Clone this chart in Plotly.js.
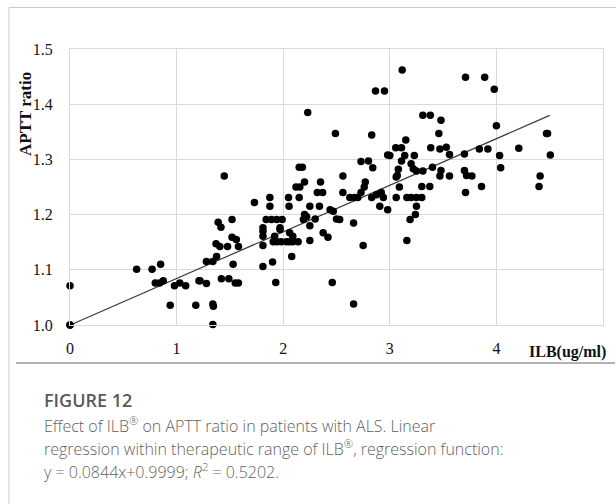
<!DOCTYPE html>
<html>
<head>
<meta charset="utf-8">
<script src="https://cdn.plot.ly/plotly-3.0.1.min.js"></script>
<style>html,body{margin:0;padding:0;background:#fff;}#chart{width:616px;height:504px;}</style>
</head>
<body>
<div id="chart"></div>
<script>
var ilbValues = [
  0, 0, 0,
  0.625, 0.77, 0.85, 0.80, 0.84, 0.875, 0.94, 0.98, 1.03, 1.085, 1.18, 1.21,
  1.447, 1.39, 1.416, 1.52, 1.37, 1.406, 1.478, 1.52, 1.56, 1.58, 1.375, 1.28, 1.34, 1.53, 1.22, 1.28, 1.42, 1.49, 1.55, 1.58, 1.34, 1.345, 1.34,
  1.73, 1.875, 1.875, 2.05, 2.055, 2.25, 2.34, 2.44, 2.47,
  1.84, 1.89, 1.94, 1.99, 2.20, 2.22, 2.19, 2.30, 2.50, 2.53, 2.66, 1.81, 1.97, 2.25,
  1.81, 1.81, 1.97, 1.906, 1.94, 1.98, 2.03, 2.06, 2.09, 2.14, 1.92, 2.06, 2.09, 2.25, 2.375, 2.42, 1.81, 2.08, 1.81, 1.90, 2.75, 1.93, 2.46, 2.66,
  2.866, 2.95, 2.23, 2.49, 2.83, 2.98, 2.73, 2.80, 2.84, 2.15, 2.18, 2.56, 2.20, 2.156, 2.12, 2.35, 2.32, 2.37, 2.15, 2.56, 2.77, 2.76, 2.73, 2.625, 2.67, 2.70, 2.83, 2.875, 2.92, 2.94, 2.906, 2.98,
  3.116, 3.71, 3.89, 3.98, 3.31, 3.38, 3.48, 3.46, 4.0, 3.15, 3.056, 3.11, 3.384, 3.47, 3.53, 3.84, 3.92, 3.0, 3.14, 3.23, 3.11, 3.56, 3.70, 4.03, 4.04,
  3.20, 3.22, 3.25, 3.31, 3.08, 3.07, 3.06, 3.40, 3.48, 3.47, 3.56, 3.70, 3.72, 3.77, 3.09, 3.30, 3.375, 3.86, 3.71,
  3.06, 3.16, 3.20, 3.25, 3.30, 3.25, 3.24, 3.19, 3.16,
  4.21, 4.47, 4.48, 4.506, 4.41, 4.40
];
var apttRatio = [
  1.0, 1.0, 1.071,
  1.101, 1.101, 1.11, 1.076, 1.076, 1.08, 1.036, 1.071, 1.076, 1.071, 1.036, 1.08,
  1.27, 1.186, 1.177, 1.191, 1.147, 1.142, 1.142, 1.159, 1.155, 1.142, 1.124, 1.115, 1.115, 1.11, 1.08, 1.075, 1.084, 1.084, 1.076, 1.076, 1.038, 1.034, 1.001,
  1.222, 1.231, 1.215, 1.231, 1.215, 1.215, 1.215, 1.209, 1.206,
  1.191, 1.191, 1.191, 1.191, 1.2, 1.196, 1.191, 1.192, 1.192, 1.191, 1.185, 1.176, 1.176, 1.18,
  1.17, 1.161, 1.173, 1.151, 1.151, 1.151, 1.151, 1.151, 1.151, 1.151, 1.161, 1.167, 1.161, 1.153, 1.167, 1.159, 1.144, 1.124, 1.106, 1.114, 1.144, 1.077, 1.077, 1.038,
  1.424, 1.424, 1.385, 1.347, 1.344, 1.308, 1.296, 1.297, 1.285, 1.286, 1.286, 1.27, 1.259, 1.25, 1.25, 1.259, 1.24, 1.24, 1.231, 1.24, 1.259, 1.25, 1.24, 1.231, 1.231, 1.231, 1.231, 1.236, 1.24, 1.231, 1.215, 1.209,
  1.462, 1.449, 1.449, 1.427, 1.38, 1.38, 1.371, 1.347, 1.361, 1.335, 1.321, 1.321, 1.321, 1.319, 1.322, 1.319, 1.319, 1.307, 1.307, 1.307, 1.297, 1.309, 1.31, 1.307, 1.285,
  1.292, 1.283, 1.279, 1.279, 1.282, 1.271, 1.268, 1.286, 1.28, 1.27, 1.27, 1.28, 1.271, 1.27, 1.25, 1.251, 1.251, 1.251, 1.24,
  1.231, 1.231, 1.231, 1.231, 1.231, 1.215, 1.2, 1.191, 1.153,
  1.32, 1.347, 1.347, 1.308, 1.27, 1.251
];
var fitSlope = 0.0844;
var fitIntercept = 0.9999;
var fitRangeX = [0, 4.5];
var xTickVals = [0, 1, 2, 3, 4];
var xTickText = ["0", "1", "2", "3", "4"];
var yTickVals = [1.0, 1.1, 1.2, 1.3, 1.4, 1.5];
var yTickText = ["1.0", "1.1", "1.2", "1.3", "1.4", "1.5"];

var fitY = fitRangeX.map(function (x) { return fitSlope * x + fitIntercept; });

var serif = '"Liberation Serif", "Times New Roman", "DejaVu Serif", serif';
var sans = '"Open Sans", "Noto Sans", sans-serif';

var traces = [
  {
    x: fitRangeX, y: fitY, type: 'scatter', mode: 'lines',
    line: {color: '#3a3a3a', width: 1.2}, hoverinfo: 'skip', cliponaxis: false
  },
  {
    x: ilbValues, y: apttRatio, type: 'scatter', mode: 'markers',
    marker: {color: '#000000', size: 7.5}, cliponaxis: false
  }
];

function px2x(p) { return (p - 70) / 533; }
function py2y(p) { return (325 - p) / 276; }

var layout = {
  width: 616, height: 504,
  margin: {l: 70, r: 13, t: 49, b: 179, pad: 0},
  paper_bgcolor: '#ffffff', plot_bgcolor: '#ffffff',
  showlegend: false,
  xaxis: {
    range: [0, 5], tickvals: xTickVals, ticktext: xTickText,
    showgrid: true, gridcolor: '#d9d9d9', gridwidth: 1, zeroline: false,
    showline: true, linecolor: '#d9d9d9', linewidth: 1, mirror: true,
    ticks: 'outside', ticklen: 9, tickcolor: 'rgba(0,0,0,0)',
    tickfont: {family: serif, size: 16, color: '#111111'}, fixedrange: true
  },
  yaxis: {
    range: [1.0, 1.5], tickvals: yTickVals, ticktext: yTickText,
    showgrid: true, gridcolor: '#d9d9d9', gridwidth: 1, zeroline: false,
    showline: true, linecolor: '#d9d9d9', linewidth: 1, mirror: true,
    ticks: 'outside', ticklen: 13, tickcolor: 'rgba(0,0,0,0)',
    tickfont: {family: serif, size: 16, color: '#111111'}, fixedrange: true
  },
  shapes: [
    {type: 'line', xref: 'paper', yref: 'paper', x0: px2x(9), x1: px2x(9), y0: py2y(504), y1: py2y(7.5), line: {color: '#cccccc', width: 1}},
    {type: 'line', xref: 'paper', yref: 'paper', x0: px2x(9), x1: px2x(616), y0: py2y(7.5), y1: py2y(7.5), line: {color: '#cccccc', width: 1}},
    {type: 'line', xref: 'paper', yref: 'paper', x0: px2x(16), x1: px2x(615), y0: py2y(363), y1: py2y(363), line: {color: '#9a9a9a', width: 1.5}}
  ],
  annotations: [
    {xref: 'paper', yref: 'paper', x: px2x(25), y: py2y(114), text: '<b>APTT ratio</b>', textangle: -90, showarrow: false,
     xanchor: 'center', yanchor: 'middle', font: {family: serif, size: 17, color: '#111111'}},
    {xref: 'paper', yref: 'paper', x: px2x(527), y: py2y(352), text: '<b>ILB(ug/ml)</b>', showarrow: false,
     xanchor: 'left', yanchor: 'middle', font: {family: serif, size: 16, color: '#111111'}},
    {xref: 'paper', yref: 'paper', x: px2x(42), y: py2y(400), text: 'FIGURE 12', showarrow: false,
     xanchor: 'left', yanchor: 'middle', font: {family: sans, size: 18, color: '#5a5a5a', weight: 600}},
    {xref: 'paper', yref: 'paper', x: px2x(42), y: py2y(425), text: 'Effect of ILB<sup>®</sup> on APTT ratio in patients with ALS. Linear', showarrow: false,
     xanchor: 'left', yanchor: 'middle', font: {family: sans, size: 16, color: '#5f5f5f', weight: 300}},
    {xref: 'paper', yref: 'paper', x: px2x(42), y: py2y(448), text: 'regression within therapeutic range of ILB<sup>®</sup>, regression function:', showarrow: false,
     xanchor: 'left', yanchor: 'middle', font: {family: sans, size: 16, color: '#5f5f5f', weight: 300}},
    {xref: 'paper', yref: 'paper', x: px2x(42), y: py2y(471), text: 'y = 0.0844x+0.9999; <i>R</i><sup>2</sup> = 0.5202.', showarrow: false,
     xanchor: 'left', yanchor: 'middle', font: {family: sans, size: 16, color: '#5f5f5f', weight: 300}}
  ]
};

Plotly.newPlot('chart', traces, layout, {displayModeBar: false, staticPlot: true});
</script>
</body>
</html>
